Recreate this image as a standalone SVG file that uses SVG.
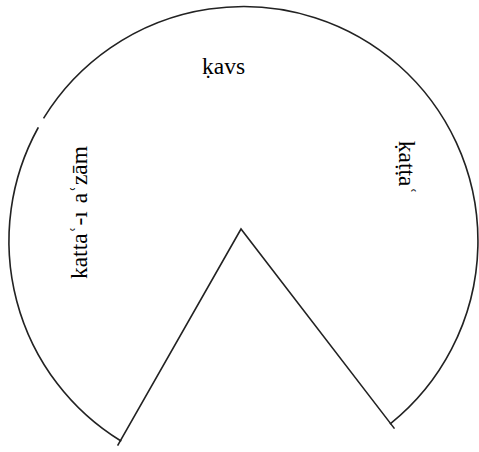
<svg xmlns="http://www.w3.org/2000/svg" width="479" height="452" viewBox="0 0 479 452">
<style>
.ln{fill:none;stroke:#222;stroke-width:1.6;stroke-linecap:square}
.lbl{font-family:"Liberation Serif","Times New Roman",serif;font-size:23.5px;fill:#000;text-anchor:middle}
</style>
<rect width="479" height="452" fill="#fff"/>
<g id="connectors">
<path class="ln" d="M120.6 440.8 A234.5 234.5 0 0 1 38 128"/>
<path class="ln" d="M44 117.7 A234.5 234.5 0 1 1 390.5 423.7"/>
<path class="ln" d="M118 445 L241 229 L394 428"/>
</g>
<g id="node-kavs"><text class="lbl" x="223.5" y="73.5">ḳavs</text></g>
<g id="node-katta"><text class="lbl" transform="translate(399,167.5) rotate(90)" x="0" y="0">ḳaṭṭaʿ</text></g>
<g id="node-katta-azam"><text class="lbl" transform="translate(87,212.5) rotate(-90)" x="0" y="0" word-spacing="2">kattaʿ-ı aʿzām</text></g>
</svg>
